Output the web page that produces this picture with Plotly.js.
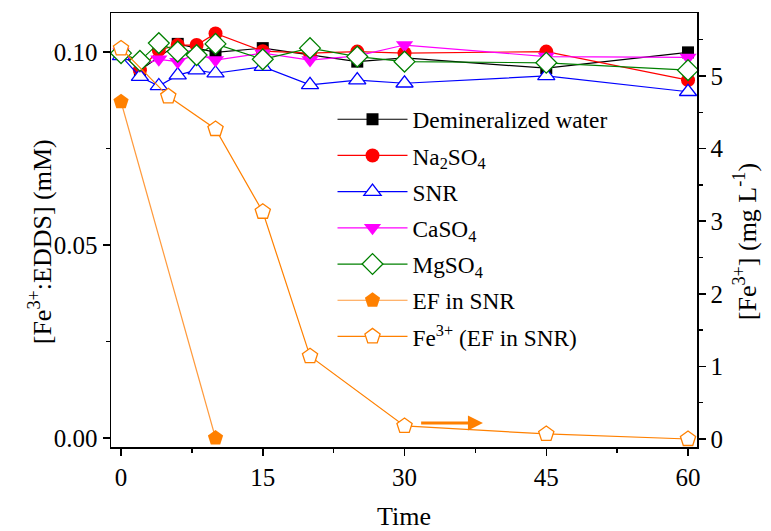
<!DOCTYPE html>
<html>
<head>
<meta charset="utf-8">
<script src="https://cdn.plot.ly/plotly-3.0.1.min.js"></script>
<style>
  html, body { margin: 0; padding: 0; background: #fff; }
  #chart { width: 771px; height: 531px; }
</style>
</head>
<body>
<div id="chart"></div>
<script>
// Sampling times (min)
const timeAll = [0, 2, 4, 6, 8, 10, 15, 20, 25, 30, 45, 60];
const timeWater = [0, 2, 6, 10, 15, 25, 30, 45, 60];
const timeEF = [0, 10];
const timeFe = [0, 5, 10, 15, 20, 30, 45, 60];

// [Fe3+:EDDS] (mM)
const waterVals = [0.0997, 0.0953, 0.1021, 0.0999, 0.1010, 0.0975, 0.0985, 0.0958, 0.0999];
const na2so4Vals = [0.0997, 0.0953, 0.1005, 0.1018, 0.1018, 0.1048, 0.1002, 0.0997, 0.1001, 0.0997, 0.1001, 0.0927];
const snrVals = [0.0990, 0.0936, 0.0912, 0.0940, 0.0953, 0.0945, 0.0962, 0.0915, 0.0927, 0.0919, 0.0938, 0.0897];
const caso4Vals = [0.1000, 0.0965, 0.0981, 0.0975, 0.0995, 0.0979, 0.0997, 0.0979, 0.0990, 0.1018, 0.0988, 0.0986];
const mgso4Vals = [0.0997, 0.0977, 0.1023, 0.1001, 0.0992, 0.1021, 0.0981, 0.1010, 0.0988, 0.0975, 0.0972, 0.0953];
const efVals = [0.0871, 0.0];

// [Fe3+] (mg/L), right axis
const feVals = [5.38, 4.72, 4.27, 3.13, 1.14, 0.18, 0.07, 0.0];

// Legend labels
const names = [
  'Demineralized water',
  'Na<sub>2</sub>SO<sub>4</sub>',
  'SNR',
  'CaSO<sub>4</sub>',
  'MgSO<sub>4</sub>',
  'EF in SNR',
  'Fe<sup>3+</sup> (EF in SNR)'
];

// Axis titles
const xTitle = 'Time';
const yLeftTitle = '[Fe<sup>3+</sup>:EDDS] (mM)';
const yRightTitle = '[Fe<sup>3+</sup>] (mg L<sup>-1</sup>)';

const FONT = 'Liberation Serif';
const ORANGE = '#ff8000';

function series(i, x, y, color, marker, extra) {
  return Object.assign({
    type: 'scatter', mode: 'lines+markers', name: names[i],
    x: x, y: y, legendgroup: 'g' + i,
    line: { color: color, width: 1.2 },
    marker: marker,
    cliponaxis: false
  }, extra || {});
}

const traces = [
  series(0, timeWater, waterVals, '#000000', { symbol: 'square', size: 12, color: '#000000' }),
  series(1, timeAll, na2so4Vals, '#ff0000', { symbol: 'circle', size: 14, color: '#ff0000' }),
  series(2, timeAll, snrVals, '#0000ff', { symbol: 'triangle-up', size: 15, color: '#ffffff', line: { color: '#0000ff', width: 1.3 } }),
  series(3, timeAll, caso4Vals, '#ff00ff', { symbol: 'triangle-down', size: 15, color: '#ff00ff' }),
  series(4, timeAll, mgso4Vals, '#008000', { symbol: 'diamond', size: 16, color: '#ffffff', line: { color: '#008000', width: 1.3 } }),
  series(5, timeEF, efVals, '#ff9a3c', { symbol: 'pentagon', size: 16, color: ORANGE }),
  series(6, timeFe, feVals, ORANGE, { symbol: 'pentagon', size: 16, color: '#ffffff', line: { color: ORANGE, width: 1.3 } }, { yaxis: 'y2' })
];

const tickFont = { family: FONT, size: 25, color: '#000' };
const titleFont = { family: FONT, size: 26, color: '#000' };

const layout = {
  width: 771, height: 531,
  margin: { l: 111, r: 74, t: 13, b: 84, pad: 0 },
  paper_bgcolor: '#ffffff', plot_bgcolor: '#ffffff',
  font: { family: FONT, color: '#000' },
  showlegend: true,
  legend: {
    x: 0.378, y: 0.805, xanchor: 'left', yanchor: 'top',
    font: { family: FONT, size: 23.3, color: '#000' },
    bgcolor: 'rgba(0,0,0,0)', borderwidth: 0,
    traceorder: 'grouped', tracegroupgap: 2.9,
    itemwidth: 70
  },
  xaxis: {
    range: [-1.06, 60.95], tickvals: [0, 15, 30, 45, 60],
    ticks: 'outside', ticklen: 7, tickwidth: 1.5, tickcolor: '#000',
    minor: { dtick: 7.5, tick0: 0, ticks: 'outside', ticklen: 4, tickwidth: 1.5, tickcolor: '#000', showgrid: false },
    showline: true, linecolor: '#000', linewidth: 1.5, mirror: true,
    showgrid: false, zeroline: false,
    tickfont: tickFont,
    title: { text: xTitle, font: titleFont, standoff: 17 }
  },
  yaxis: {
    range: [-0.00233, 0.1101], tickvals: [0, 0.05, 0.10], ticktext: ['0.00', '0.05', '0.10'],
    ticks: 'outside', ticklen: 7, tickwidth: 1.5, tickcolor: '#000',
    minor: { dtick: 0.025, tick0: 0, ticks: 'outside', ticklen: 4, tickwidth: 1.5, tickcolor: '#000', showgrid: false },
    showline: true, linecolor: '#000', linewidth: 1.5,
    showgrid: false, zeroline: false,
    tickfont: tickFont
  },
  yaxis2: {
    overlaying: 'y', side: 'right',
    range: [-0.11, 5.868], tickvals: [0, 1, 2, 3, 4, 5],
    ticks: 'outside', ticklen: 7, tickwidth: 1.5, tickcolor: '#000',
    minor: { dtick: 0.5, tick0: 0, ticks: 'outside', ticklen: 4, tickwidth: 1.5, tickcolor: '#000', showgrid: false },
    showline: true, linecolor: '#000', linewidth: 1.5,
    showgrid: false, zeroline: false,
    tickfont: tickFont
  },
  annotations: [
    {
      // arrow pointing to the right-hand axis for the Fe3+ series
      x: 38.3, y: 0.22, xref: 'x', yref: 'y2',
      ax: 31.6, ay: 0.22, axref: 'x', ayref: 'y2',
      text: '', showarrow: true,
      arrowhead: 2, arrowsize: 1, arrowwidth: 3, arrowcolor: ORANGE
    },
    {
      // left axis title
      text: yLeftTitle, font: titleFont, textangle: -90, showarrow: false,
      xref: 'paper', yref: 'paper', x: -0.121, y: 0.472,
      xanchor: 'center', yanchor: 'middle'
    },
    {
      // right axis title
      text: yRightTitle, font: titleFont, textangle: -90, showarrow: false,
      xref: 'paper', yref: 'paper', x: 1.082, y: 0.472,
      xanchor: 'center', yanchor: 'middle'
    }
  ]
};

Plotly.newPlot('chart', traces, layout, { displayModeBar: false, staticPlot: true });
</script>
</body>
</html>
